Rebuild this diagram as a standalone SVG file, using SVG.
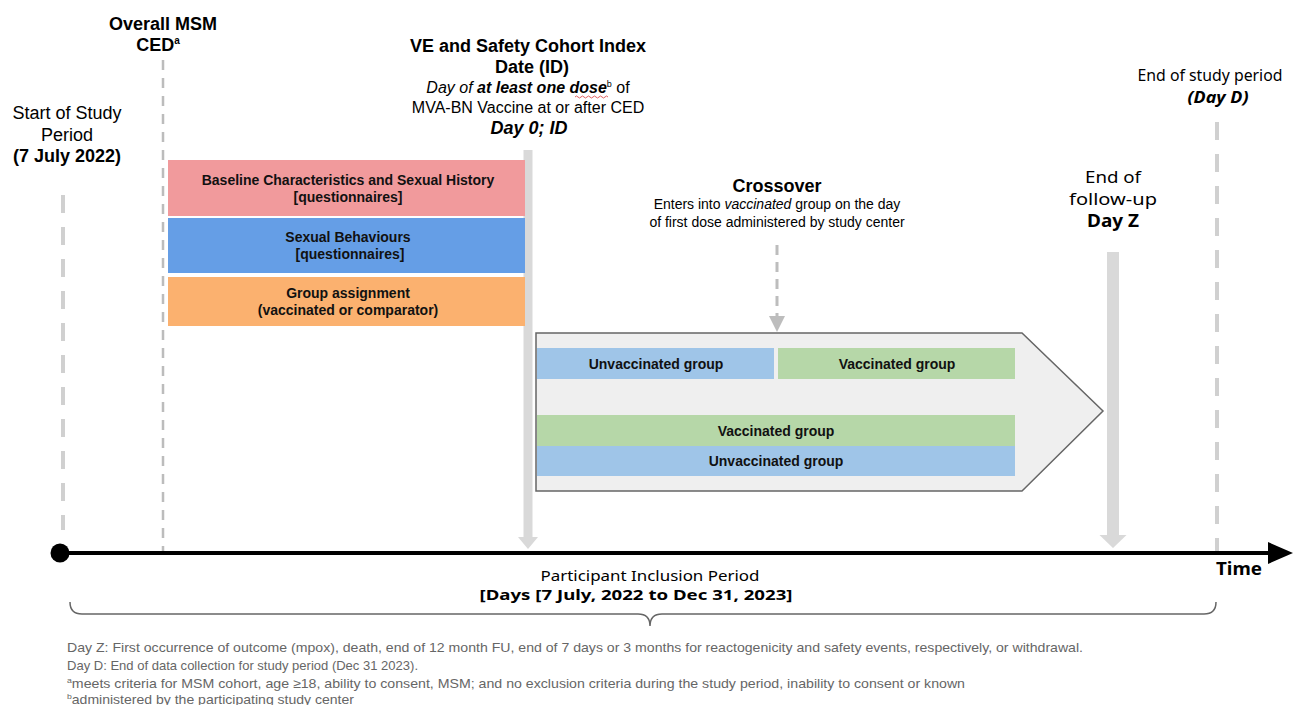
<svg xmlns="http://www.w3.org/2000/svg" width="1293" height="705" viewBox="0 0 1293 705">
<defs>
<style>
.a{font-family:"Liberation Sans",Arial,sans-serif;fill:#000}
.p{font-family:"Noto Sans","DejaVu Sans",sans-serif;fill:#000}
.b{font-weight:bold}
.i{font-style:italic}
.c{text-anchor:middle}
.bar{font-family:"Liberation Sans",Arial,sans-serif;font-weight:bold;font-size:14px;text-anchor:middle;fill:#111}
.fn{font-family:"Liberation Sans",Arial,sans-serif;font-size:13px;fill:#666}
</style>
</defs>

<g id="connectors">
<line x1="63" y1="195" x2="63" y2="530" stroke="#d0d0d0" stroke-width="4" stroke-dasharray="18 14"/>
<line x1="163" y1="60" x2="163" y2="555" stroke="#bcbcbc" stroke-width="2.5" stroke-dasharray="10 8"/>
<line x1="1217" y1="122" x2="1217" y2="553" stroke="#d0d0d0" stroke-width="4" stroke-dasharray="18 14"/>
<path d="M523.5,150H532.5V537H538L528,549L518,537H523.5Z" fill="#d9d9d9"/>
<path d="M1107,252H1119V535H1126.5L1113,548L1099.5,535H1107Z" fill="#d9d9d9"/>
<line x1="777" y1="245" x2="777" y2="318" stroke="#bdbdbd" stroke-width="3" stroke-dasharray="10 7"/>
<path d="M769,316H785L777,332Z" fill="#bdbdbd"/>
<line x1="60" y1="553" x2="1270" y2="553" stroke="#000" stroke-width="4"/>
<circle cx="60" cy="553" r="9.5" fill="#000"/>
<path d="M1268,542L1293,553L1268,564Z" fill="#000"/>
<path d="M70,602Q70,614 82,614H638Q650,614 650,626Q650,614 662,614H1204Q1216,614 1216,602" fill="none" stroke="#666" stroke-width="1.5"/>
</g>

<g id="ced-label">
<text class="a b c" x="163" y="30" font-size="18">Overall MSM</text>
<text class="a b c" x="158" y="51" font-size="18">CED<tspan font-size="10" dy="-7">a</tspan></text>
</g>

<g id="start-label">
<text class="a c" x="67" y="119" font-size="18">Start of Study</text>
<text class="a c" x="67" y="141" font-size="18">Period</text>
<text class="a b c" x="67" y="162" font-size="18">(7 July 2022)</text>
</g>

<g id="index-label">
<text class="a b c" x="528" y="52" font-size="18">VE and Safety Cohort Index</text>
<text class="a b c" x="532" y="73" font-size="18">Date (ID)</text>
<text class="a c" x="528" y="93" font-size="16"><tspan class="i">Day of </tspan><tspan class="b i">at least one dose</tspan><tspan font-size="9" dy="-6">b</tspan><tspan dy="6"> of</tspan></text>
<path d="M575,97q1.5,-2 3,0t3,0t3,0t3,0t3,0t3,0t3,0t3,0t3,0t3,0t3,0" fill="none" stroke="#e06060" stroke-width="1"/>
<text class="a c" x="528" y="113" font-size="16">MVA-BN Vaccine at or after CED</text>
<text class="a b i c" x="529" y="134" font-size="18">Day 0; ID</text>
</g>

<g id="end-study-label">
<text class="p c" x="1210" y="81" font-size="16" textLength="145" lengthAdjust="spacingAndGlyphs">End of study period</text>
<text class="p b i c" x="1218" y="103" font-size="16.5" textLength="61" lengthAdjust="spacingAndGlyphs">(Day D)</text>
</g>

<g id="end-followup-label">
<text class="p c" x="1113" y="183" font-size="17" textLength="56" lengthAdjust="spacingAndGlyphs">End of</text>
<text class="p c" x="1113" y="205" font-size="17" textLength="88" lengthAdjust="spacingAndGlyphs">follow-up</text>
<text class="p b c" x="1113" y="227" font-size="17" textLength="52" lengthAdjust="spacingAndGlyphs">Day Z</text>
</g>

<g id="crossover-label">
<text class="a b c" x="777" y="192" font-size="18">Crossover</text>
<text class="a c" x="777" y="209" font-size="14">Enters into <tspan class="i">vaccinated</tspan> group on the day</text>
<text class="a c" x="777" y="227" font-size="14">of first dose administered by study center</text>
</g>

<g id="baseline-bar">
<rect x="168" y="160" width="357" height="56" fill="#f19a9c"/>
<text class="bar" x="348" y="185">Baseline Characteristics and Sexual History</text>
<text class="bar" x="348" y="202">[questionnaires]</text>
</g>
<g id="behaviours-bar">
<rect x="168" y="218" width="357" height="55" fill="#659ee6"/>
<text class="bar" x="348" y="242">Sexual Behaviours</text>
<text class="bar" x="350" y="259">[questionnaires]</text>
</g>
<g id="assignment-bar">
<rect x="168" y="277" width="357" height="49" fill="#fbb16f"/>
<text class="bar" x="348" y="298">Group assignment</text>
<text class="bar" x="348" y="315">(vaccinated or comparator)</text>
</g>

<g id="follow-up-arrow">
<path d="M536,333H1022L1103,411L1022,491H536Z" fill="#efefef" stroke="#666" stroke-width="1.5"/>
</g>
<g id="unvaccinated-crossover">
<rect x="537" y="348" width="237" height="31" fill="#9fc5e8"/>
<text class="bar" x="656" y="369">Unvaccinated group</text>
</g>
<g id="vaccinated-crossover">
<rect x="778" y="348" width="237" height="31" fill="#b6d7a8"/>
<text class="bar" x="897" y="369">Vaccinated group</text>
</g>
<g id="vaccinated-group">
<rect x="537" y="415" width="478" height="31" fill="#b6d7a8"/>
<text class="bar" x="776" y="436">Vaccinated group</text>
</g>
<g id="unvaccinated-group">
<rect x="537" y="446" width="478" height="30" fill="#9fc5e8"/>
<text class="bar" x="776" y="466">Unvaccinated group</text>
</g>

<g id="time-label">
<text class="p b c" x="1239" y="575" font-size="17" textLength="46" lengthAdjust="spacingAndGlyphs">Time</text>
</g>

<g id="inclusion-label">
<text class="p c" x="650" y="581" font-size="14" textLength="219" lengthAdjust="spacingAndGlyphs">Participant Inclusion Period</text>
<text class="p b c" x="636" y="600" font-size="15" textLength="313" lengthAdjust="spacingAndGlyphs">[Days [7 July, 2022 to Dec 31, 2023]</text>
</g>

<g id="footnotes">
<text class="fn" x="67" y="652" textLength="1016" lengthAdjust="spacingAndGlyphs">Day Z: First occurrence of outcome (mpox), death, end of 12 month FU, end of 7 days or 3 months for reactogenicity and safety events, respectively, or withdrawal.</text>
<text class="fn" x="67" y="670" textLength="351" lengthAdjust="spacingAndGlyphs">Day D: End of data collection for study period (Dec 31 2023).</text>
<text class="fn" x="67" y="688" textLength="898" lengthAdjust="spacingAndGlyphs"><tspan font-size="8" dy="-5">a</tspan><tspan dy="5">meets criteria for MSM cohort, age ≥18, ability to consent, MSM; and no exclusion criteria during the study period, inability to consent or known</tspan></text>
<text class="fn" x="67" y="704" textLength="287" lengthAdjust="spacingAndGlyphs"><tspan font-size="8" dy="-5">b</tspan><tspan dy="5">administered by the participating study center</tspan></text>
</g>
</svg>
